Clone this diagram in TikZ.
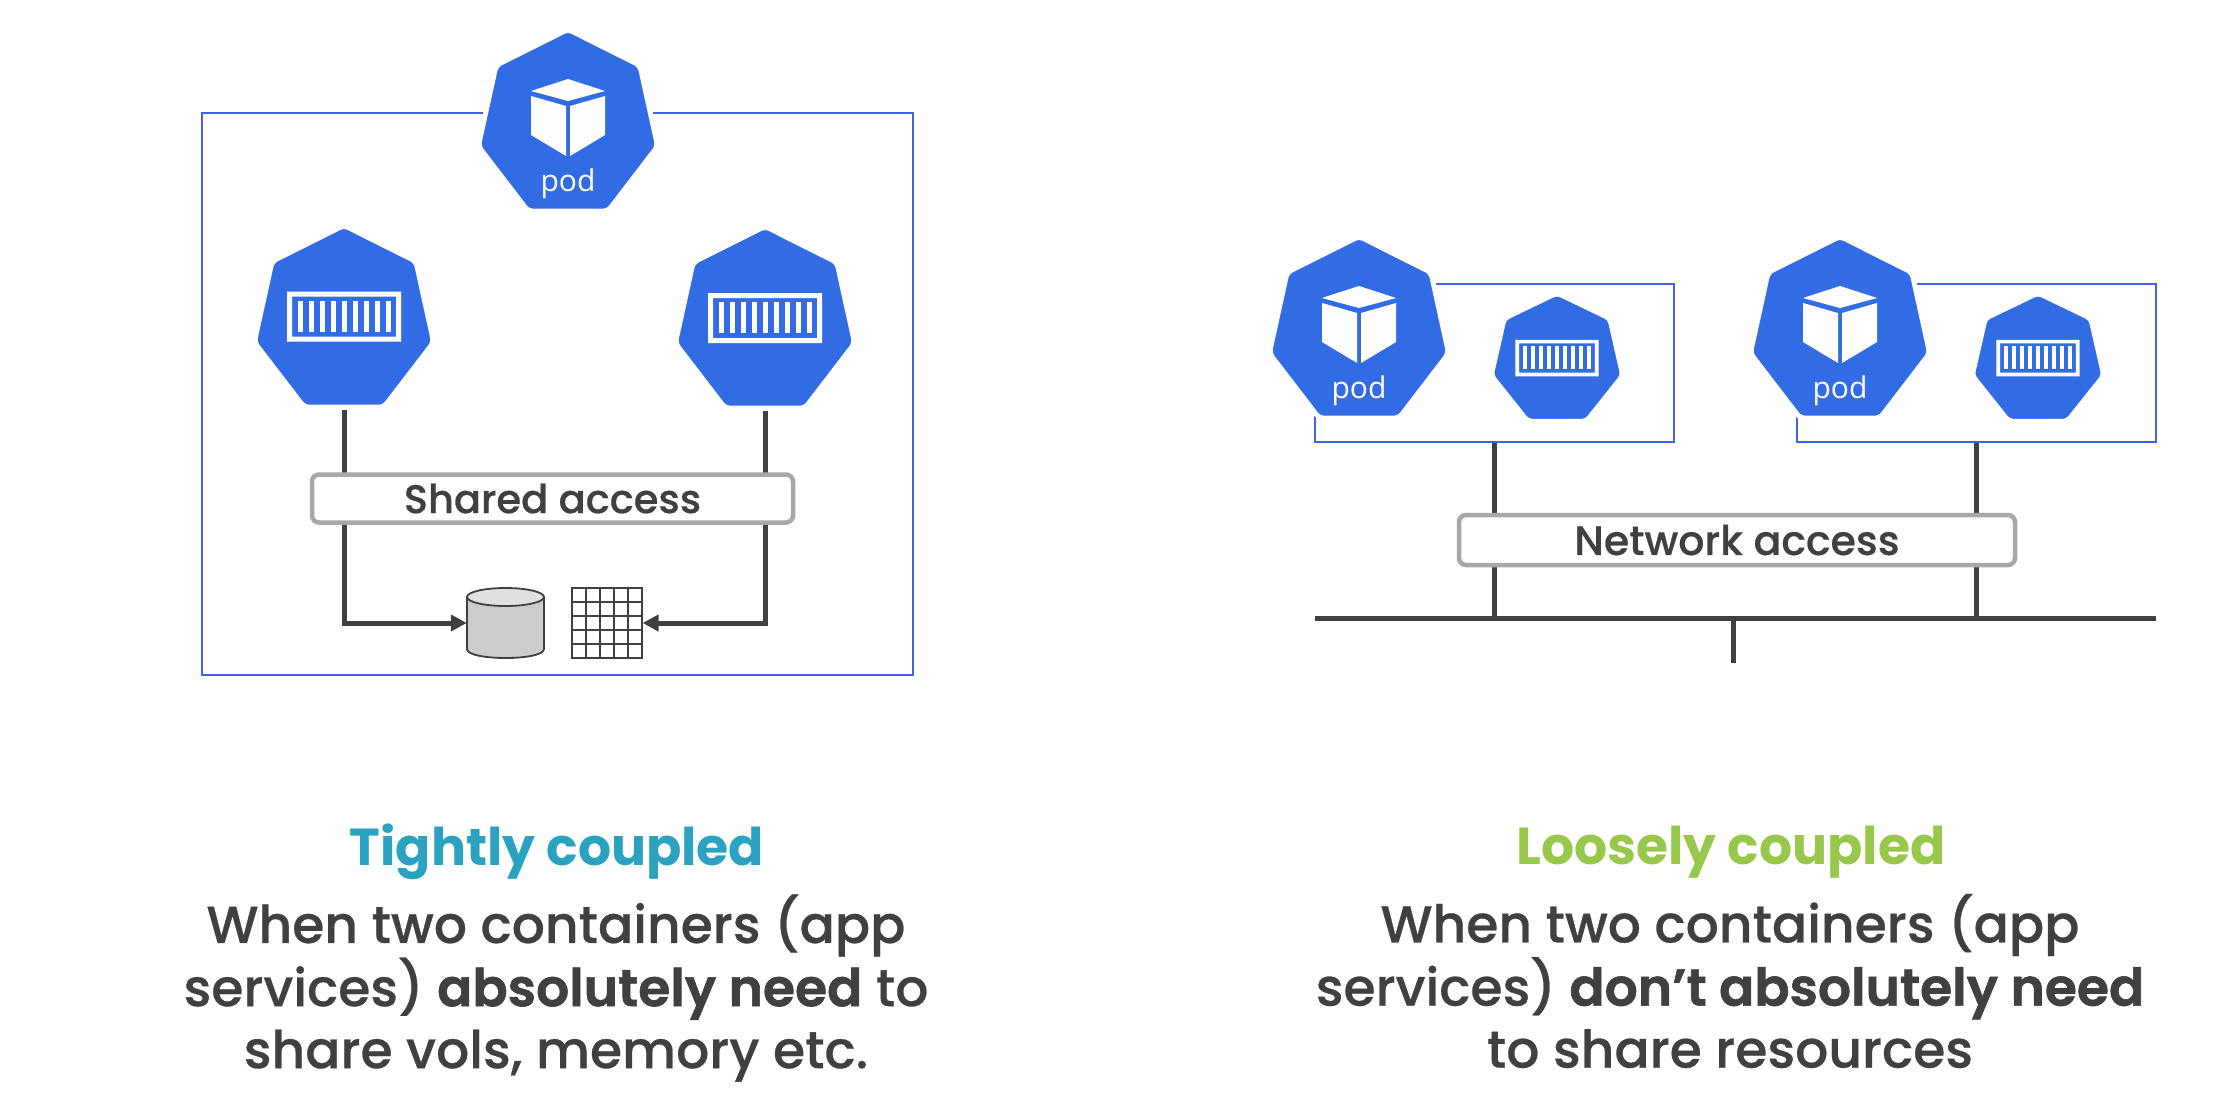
\documentclass[tikz,border=0pt]{standalone}
\usepackage{fontspec}
\usetikzlibrary{arrows.meta,shapes.geometric,calc}
\newfontfamily\bodyfont{Poppins}[UprightFont=* Medium,UprightFeatures={FakeBold=0.5},BoldFont=* Bold]
\newfontfamily\bodysemi{Poppins}[UprightFont=* SemiBold,UprightFeatures={FakeBold=1.2}]
\newfontfamily\podfont{Open Sans}
\definecolor{kubeblue}{HTML}{326CE5}
\definecolor{boxblue}{HTML}{4060F0}
\definecolor{wiregray}{HTML}{404040}
\definecolor{accessgray}{HTML}{A8A8A8}
\definecolor{tightcol}{HTML}{2BA2C0}
\definecolor{loosecol}{HTML}{97C84C}
\tikzset{
    bighex/.style={regular polygon, regular polygon sides=7, minimum size=184pt, inner sep=0pt, fill=kubeblue, draw=white, line width=5pt, rounded corners=5pt, yscale=1.04, transform shape},
    smallhex/.style={regular polygon, regular polygon sides=7, minimum size=134pt, inner sep=0pt, fill=kubeblue, draw=white, line width=4pt, rounded corners=4pt},
    bluebox/.style={draw=boxblue, line width=2pt, inner sep=0pt, fill=white},
    accessbox/.style={draw=accessgray, line width=4.5pt, rounded corners=7pt, fill=white, inner sep=0pt, text=wiregray},
    wire/.style={draw=wiregray, line width=5pt},
    cyl/.style={draw=wiregray, line width=1.8pt},
    headline/.style={font=\bodyfont\bfseries\fontsize{52}{62}\selectfont, inner sep=0pt},
    bodytext/.style={font=\bodyfont\fontsize{52}{62}\selectfont, text=wiregray, align=center, inner sep=0pt},
    podtext/.style={font=\podfont\fontsize{30}{36}\selectfont, text=white, inner sep=0pt},
    pics/cubeicon/.style={code={
        \fill[white] (0,-41) -- (37,-29) -- (0,-19) -- (-37,-29) -- cycle;
        \fill[white] (-37,-24) -- (-2,-14) -- (-2,36) -- (-37,15) -- cycle;
        \fill[white] (2,-14) -- (37,-24) -- (37,15) -- (2,36) -- cycle;
    }},
    pics/crateicon/.style={code={
        \fill[white, even odd rule] (-57,-25) rectangle (57,25) (-52,-20) rectangle (52,20);
        \foreach \k in {-4,...,4} {
            \fill[white] ({\k*11-2.5},-16) rectangle ({\k*11+2.5},15);
        }
    }}
}
\begin{document}
\begin{tikzpicture}[x=1pt, y=-1pt]
    \useasboundingbox (0,0) rectangle (2224,1110);

    % Tightly coupled pod
    \node[bluebox, minimum width=711pt, minimum height=562pt] (podbox) at (557.5,394) {};
    \node[bighex] (topPod) at (568,125) {};
    \pic at (568,120) {cubeicon};
    \node[podtext] (topPodText) at (568,184) {pod};

    % Containers
    \node[bighex] (cntL) at (344,321) {};
    \pic at (344,316.5) {crateicon};
    \node[bighex] (cntR) at (765,322) {};
    \pic at (765,318) {crateicon};

    % Volume and memory
    \node[minimum width=77pt, minimum height=70pt, inner sep=0pt] (vol) at (505.5,623) {};
    \draw[cyl, fill=black!20] (467,597) -- (467,649) .. controls (467,661) and (544,661) .. (544,649) -- (544,597) -- cycle;
    \draw[cyl, fill=black!12] (505.5,597) ellipse (38.5 and 9);
    \node[draw=wiregray, line width=1.2pt, minimum size=70pt, inner sep=0pt] (mem) at (607,623) {};
    \foreach \d in {14,28,42,56} {
        \draw[wiregray, line width=1.2pt] (572+\d,588) -- (572+\d,658);
        \draw[wiregray, line width=1.2pt] (572,588+\d) -- (642,588+\d);
    }

    % Shared access wires
    \draw[wire, -{Triangle[length=16pt,width=16pt]}] (cntL.south) |- (vol.west);
    \draw[wire, -{Triangle[length=16pt,width=16pt]}] (cntR.south) |- (mem.east);
    \node[accessbox, font=\bodyfont\fontsize{40}{48}\selectfont, minimum width=481pt, minimum height=48pt] (shared) at (552.5,498.5) {Shared access};

    % Loosely coupled pods
    \node[bluebox, minimum width=359pt, minimum height=158pt] (grpA) at (1494.5,363) {};
    \node[bluebox, minimum width=359pt, minimum height=158pt] (grpB) at (1976.5,363) {};
    \node[bighex] (podA) at (1359,332) {};
    \pic at (1359,327) {cubeicon};
    \node[podtext] (podAText) at (1359,391) {pod};
    \node[bighex] (podB) at (1840,332) {};
    \pic at (1840,327) {cubeicon};
    \node[podtext] (podBText) at (1840,391) {pod};
    \node[smallhex] (ctrA) at (1557,360.5) {};
    \pic[scale=0.73] at (1557,358) {crateicon};
    \node[smallhex] (ctrB) at (2038,360.5) {};
    \pic[scale=0.73] at (2038,358) {crateicon};

    % Network bus
    \coordinate (busL) at (1315,618);
    \coordinate (busR) at (2156,618);
    \coordinate (stub) at (1733,663);
    \draw[wire] (grpA.south) -- (grpA.south |- busL);
    \draw[wire] (grpB.south) -- (grpB.south |- busL);
    \draw[wire] (busL) -- (busR);
    \draw[wire] (stub |- busL) -- (stub);
    \node[accessbox, font=\bodyfont\fontsize{41}{48}\selectfont, minimum width=556pt, minimum height=50pt] (network) at (1737,540) {Network access};

    % Captions
    \node[headline, text=tightcol] (tightHead) at (557,852) {Tightly coupled};
    \node[bodytext] (tightBody) at (556,988) {When two containers (app\\services) {\bodysemi absolutely need} to\\share vols, memory etc.};
    \node[headline, text=loosecol] (looseHead) at (1731,852) {Loosely coupled};
    \node[bodytext] (looseBody) at (1730,981) {When two containers (app\\services) {\bodysemi don’t absolutely need}\\to share resources};
\end{tikzpicture}
\end{document}
